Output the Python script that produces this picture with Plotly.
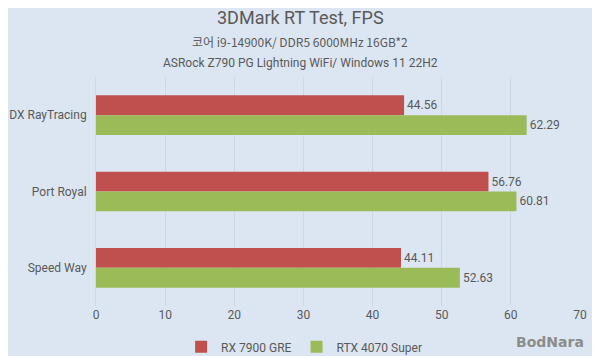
import plotly.graph_objects as go

categories = ["DX RayTracing", "Port Royal", "Speed Way"]
rx7900gre = [44.56, 56.76, 44.11]
rtx4070s = [62.29, 60.81, 52.63]
series_names = ["RX 7900 GRE", "RTX 4070 Super"]
tick_vals = [0, 10, 20, 30, 40, 50, 60, 70]

FONT = "Roboto"
TXT = "#595959"
BG = "#dce6f2"

fig = go.Figure()
fig.add_trace(go.Bar(
    y=categories, x=rx7900gre, orientation="h", name=series_names[0],
    marker=dict(color="#c0504d", line=dict(width=0)),
    text=[f"{v:.2f}" for v in rx7900gre], textposition="outside",
    textfont=dict(family=FONT, size=12, color=TXT), cliponaxis=False,
))
fig.add_trace(go.Bar(
    y=categories, x=rtx4070s, orientation="h", name=series_names[1],
    marker=dict(color="#9bbb59", line=dict(width=0)),
    text=[f"{v:.2f}" for v in rtx4070s], textposition="outside",
    textfont=dict(family=FONT, size=12, color=TXT), cliponaxis=False,
))

# page is offset by the default 8px body margin; compensate
PAGE_TOP, PAGE_BOTTOM = 77, 306
PAGE_LEFT, PAGE_RIGHT = 96, 580
fig.update_layout(
    width=592, height=348,
    margin=dict(l=88, r=20, t=69, b=50, autoexpand=False),
    paper_bgcolor=BG, plot_bgcolor=BG,
    font=dict(family=FONT, color=TXT, size=12),
    barmode="group", bargap=0.48, bargroupgap=0,
    showlegend=True,
    legend=dict(orientation="h", x=0.43, xanchor="center", y=-0.115, yanchor="top",
                font=dict(size=12, color=TXT), bgcolor="rgba(0,0,0,0)",
                itemwidth=30, traceorder="normal"),
    xaxis=dict(range=[0, 70], tickvals=tick_vals, showgrid=True, gridcolor="#cdd6e1",
               gridwidth=1, zeroline=False, showline=False, ticks="", automargin=False,
               tickfont=dict(size=12, color=TXT)),
    yaxis=dict(autorange="reversed", showgrid=False, showline=True, linecolor="#cdd6e1",
               ticks="", ticksuffix="  ", automargin=False, tickfont=dict(size=12, color=TXT)),
)

def py(pix):
    return (PAGE_BOTTOM - pix) / (PAGE_BOTTOM - PAGE_TOP)

def px(pix):
    return (pix - PAGE_LEFT) / (PAGE_RIGHT - PAGE_LEFT)

fig.add_annotation(text="3DMark RT Test, FPS", x=px(300), y=py(18), xref="paper", yref="paper",
                   showarrow=False, font=dict(size=18, color=TXT), yanchor="middle")
fig.add_annotation(text="코어 i9-14900K/ DDR5 6000MHz 16GB*2", x=px(300), y=py(41), xref="paper", yref="paper",
                   showarrow=False, font=dict(size=12, color=TXT, family="Noto Sans CJK KR"), yanchor="middle")
fig.add_annotation(text="ASRock Z790 PG Lightning WiFi/ Windows 11 22H2", x=px(300), y=py(63), xref="paper", yref="paper",
                   showarrow=False, font=dict(size=12, color=TXT), yanchor="middle")
fig.add_annotation(text="<b>BodNara</b>", x=1.0, y=py(342), xref="paper", yref="paper", xanchor="right",
                   xshift=6, showarrow=False, font=dict(size=14, color="#8c8c8c", family="DejaVu Sans"), yanchor="middle")

fig.write_html("out.html")
